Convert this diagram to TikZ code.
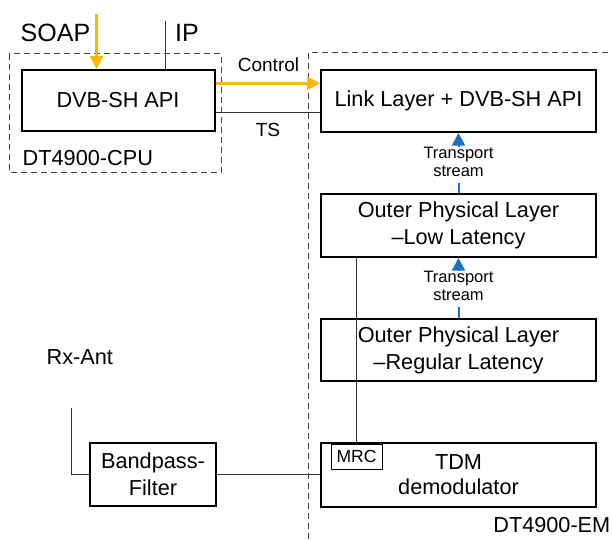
\documentclass[tikz,border=0pt]{standalone}
\usepackage{fontspec}
\setmainfont{Liberation Sans}
\usetikzlibrary{arrows.meta}
\definecolor{ctlOrange}{HTML}{FFB800}
\definecolor{tsBlue}{HTML}{1A72C6}

\begin{document}
\begin{tikzpicture}[
    x=1pt, y=-1pt,
    blk/.style={draw, line width=2pt, align=center, inner sep=0pt, font=\fontsize{21.7}{27}\selectfont},
    grp/.style={draw=black!75, dash pattern=on 6pt off 4pt, line width=1pt},
    wire/.style={draw=black!80, line width=1pt},
    ctl/.style={draw=ctlOrange, line width=3pt, -{Triangle[width=13pt,length=13pt]}},
    tsline/.style={draw=tsBlue, line width=2pt},
    tsarr/.style={tsline, -{Triangle[width=13pt,length=12.5pt]}},
    lbl/.style={font=\fontsize{21.7}{27}\selectfont, inner sep=0pt},
    big/.style={font=\fontsize{25}{30}\selectfont, inner sep=0pt},
    mid/.style={font=\fontsize{19}{23}\selectfont, inner sep=0pt},
    sml/.style={font=\fontsize{16.5}{17.5}\selectfont, align=center, inner sep=0pt},
]
\useasboundingbox (0,0) rectangle (612,539);

% groups
\draw[grp] (9,53.5) rectangle (221,172);
\draw[grp] (308.5,539) -- (308.5,52) -- (612,52);
\node[lbl, anchor=base west] (cpulbl) at (22.5,165) {DT4900-CPU};
\node[lbl, anchor=base east] (emlbl) at (610.5,532) {DT4900-EM};

% blocks
\node[blk, minimum width=193pt, minimum height=61pt] (api) at (118,100.5) {DVB-SH API};
\node[blk, minimum width=275pt, minimum height=62pt] (link) at (458.5,101) {Link Layer + DVB-SH API};
\node[blk, minimum width=275pt, minimum height=63pt] (low) at (458.5,225.5) {Outer Physical Layer\\--Low Latency};
\node[blk, minimum width=275pt, minimum height=62pt] (reg) at (458.5,350) {Outer Physical Layer\\--Regular Latency};
\node[blk, minimum width=275pt, minimum height=64pt, font=\fontsize{21.7}{25}\selectfont] (tdm) at (458.5,475) {TDM\\demodulator};
\node[blk, minimum width=126pt, minimum height=63pt] (bpf) at (153,474.5) {Bandpass-\\Filter};
\node[draw, line width=1pt, fill=white, minimum width=51pt, minimum height=25pt, inner sep=0pt,
      font=\fontsize{17.5}{20}\selectfont] (mrc) at (356.5,456.5) {MRC};

% inputs
\node[big, anchor=base west] (soap) at (20.5,41.5) {SOAP};
\node[big, anchor=base west] (ip) at (175,41.5) {IP};
\coordinate (soapin) at (96.5,14);
\coordinate (ipin) at (165.5,20.5);
\draw[ctl] (soapin) -- (soapin |- api.north);
\draw[wire] (ipin) -- (ipin |- api.north);

% cpu to em
\coordinate (ctlrow) at (0,83.3);
\coordinate (tsrow) at (0,112.7);
\draw[ctl] (api.east |- ctlrow) -- (link.west |- ctlrow);
\draw[wire] (api.east |- tsrow) -- (link.west |- tsrow);
\node[mid, anchor=base] (ctllbl) at (268.5,71) {Control};
\node[mid, anchor=base] (tslbl) at (268,136.7) {TS};

% transport streams
\node[sml] (ts1) at (458.5,162) {Transport\\stream};
\node[sml] (ts2) at (458.5,286) {Transport\\stream};
\draw[tsline, shorten >=6pt] (low.north) -- (ts1.south);
\draw[tsarr] (ts1.north) -- (link.south);
\draw[tsline, shorten >=6pt] (reg.north) -- (ts2.south);
\draw[tsarr] (ts2.north) -- (low.south);

% rf chain
\node[lbl, anchor=base west] (rxant) at (46.5,364) {Rx-Ant};
\coordinate (ant) at (71.5,408);
\draw[wire] (ant) |- (bpf.west);
\draw[wire] (bpf.east) -- (bpf.east -| tdm.west);
\draw[wire] (mrc.north) -- (mrc.north |- low.south);
\end{tikzpicture}
\end{document}
